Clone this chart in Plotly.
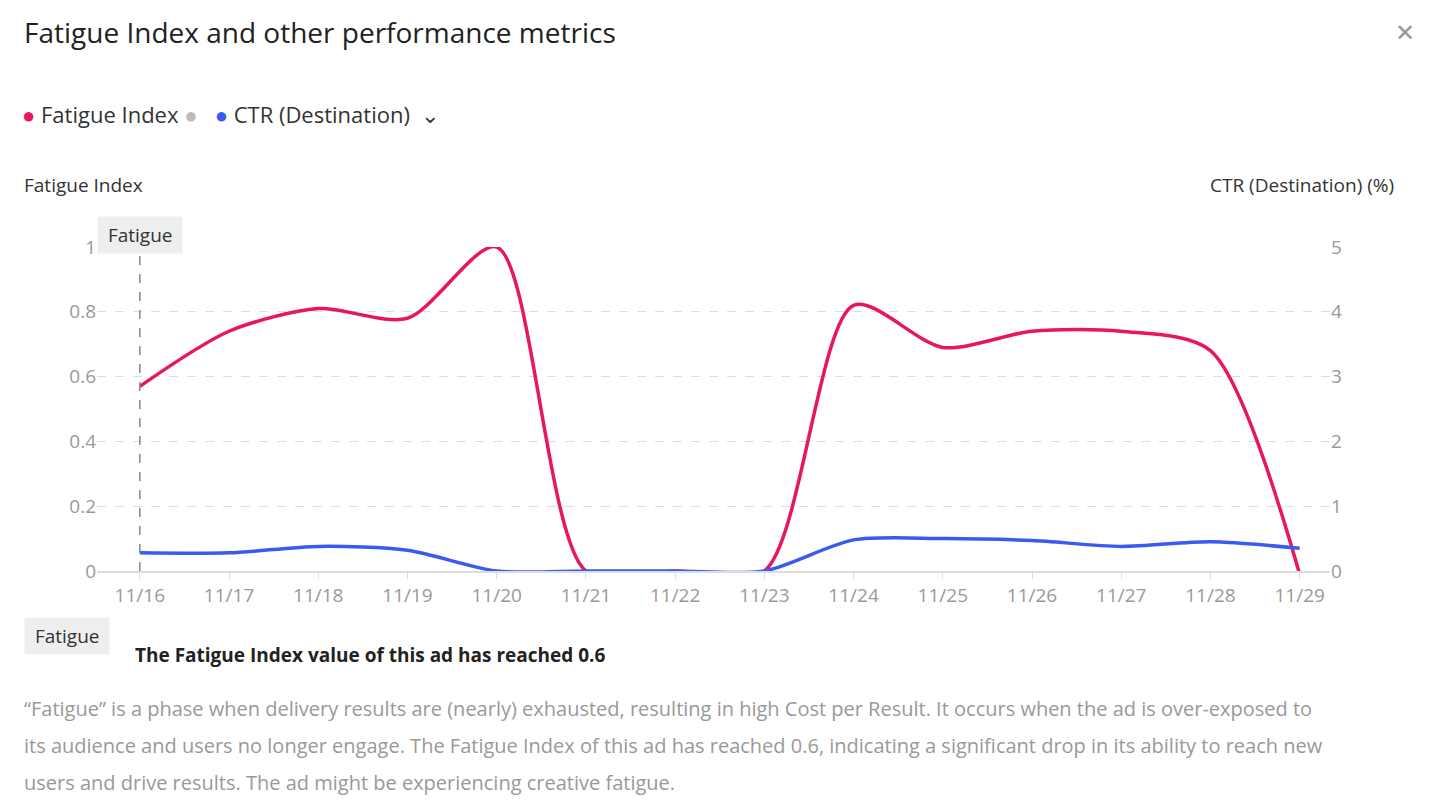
import plotly.graph_objects as go

dates = ["11/16","11/17","11/18","11/19","11/20","11/21","11/22","11/23","11/24","11/25","11/26","11/27","11/28","11/29"]
fatigue = [0.57,0.74,0.81,0.78,1.0,0,0,0,0.82,0.69,0.74,0.74,0.68,-0.01]
ctr = [0.28,0.28,0.38,0.32,0,0,0,0,0.48,0.50,0.47,0.38,0.45,0.35]
left_ticks = [0,0.2,0.4,0.6,0.8,1]
left_text = ["0","0.2","0.4","0.6","0.8","1"]
right_ticks = [0,1,2,3,4,5]

x = list(range(len(dates)))
F = "Open Sans"
OFF = 8
L, R, T, B = 97 - OFF, 112 + OFF, 247 - OFF, 237 + OFF
PW, PH = 1442 - L - R, 808 - T - B
def px(xp): return (xp - OFF - L) / PW
def py(yp): return 1 - (yp - OFF - T) / PH

fig = go.Figure()
fig.add_trace(go.Scatter(x=x, y=fatigue, mode="lines", line=dict(color="#e8175d", width=3.5, shape="spline", smoothing=0.8), cliponaxis=False, showlegend=False))
fig.add_trace(go.Scatter(x=x, y=ctr, yaxis="y2", mode="lines", line=dict(color="#3b5bf0", width=3.5, shape="spline", smoothing=0.8), cliponaxis=False, showlegend=False))

fig.update_layout(
    width=1442, height=808, paper_bgcolor="white", plot_bgcolor="white",
    margin=dict(l=L, r=R, t=T, b=B),
    font=dict(family=F, color="#333"),
    xaxis=dict(range=[-0.48, 13.34], tickvals=x, ticktext=dates, showgrid=False, zeroline=False,
               showline=True, linecolor="#ddd", linewidth=2, ticks="outside", tickcolor="#ddd", ticklen=6,
               tickfont=dict(size=19, color="#999")),
    yaxis=dict(range=[0, 1], tickvals=left_ticks, ticktext=left_text, gridcolor="#ddd", griddash="dash",
               zeroline=False, tickfont=dict(size=19, color="#999"), ticksuffix="  "),
    yaxis2=dict(range=[0, 5], tickvals=right_ticks, overlaying="y", side="right", showgrid=False, zeroline=False,
                tickfont=dict(size=19, color="#999"), tickprefix="   "),
    shapes=[dict(type="line", xref="x", yref="paper", x0=0, x1=0, y0=0, y1=1.06, line=dict(color="#888", width=1.5, dash="dash"))],
)
ann = [
    dict(x=22, y=32, text="Fatigue Index and other performance metrics", size=28, color="#222"),
    dict(x=1393, y=32, text="✕", size=24, color="#999"),
    dict(x=20, y=114, text="<span style='color:#e8175d'>●</span> Fatigue Index <span style='color:#bbb'>●</span>   <span style='color:#3b5bf0'>●</span> CTR (Destination)  ⌄", size=22, color="#333"),
    dict(x=22, y=185, text="Fatigue Index", size=19, color="#333"),
    dict(x=1208, y=185, text="CTR (Destination) (%)", size=19, color="#333"),
    dict(x=133, y=655, text="<b>The Fatigue Index value of this ad has reached 0.6</b>", size=19, color="#222"),
    dict(x=22, y=708, text="“Fatigue” is a phase when delivery results are (nearly) exhausted, resulting in high Cost per Result. It occurs when the ad is over-exposed to", size=20, color="#999"),
    dict(x=22, y=745, text="its audience and users no longer engage. The Fatigue Index of this ad has reached 0.6, indicating a significant drop in its ability to reach new", size=20, color="#999"),
    dict(x=22, y=782, text="users and drive results. The ad might be experiencing creative fatigue.", size=20, color="#999"),
]
for a in ann:
    fig.add_annotation(xref="paper", yref="paper", x=px(a["x"]), y=py(a["y"]),
                       text=a["text"], showarrow=False, xanchor="left", yanchor="middle",
                       font=dict(family=F, size=a["size"], color=a["color"]))
fig.add_annotation(xref="x", yref="paper", x=0, y=py(216), text=" Fatigue ", showarrow=False,
                   bgcolor="#eeeeee", borderpad=5, font=dict(family=F, size=19, color="#333"))
fig.add_annotation(xref="paper", yref="paper", x=px(24), y=py(655), text=" Fatigue ", showarrow=False,
                   xanchor="left", bgcolor="#eeeeee", borderpad=5, font=dict(family=F, size=19, color="#333"))
fig.write_html("out.html")
